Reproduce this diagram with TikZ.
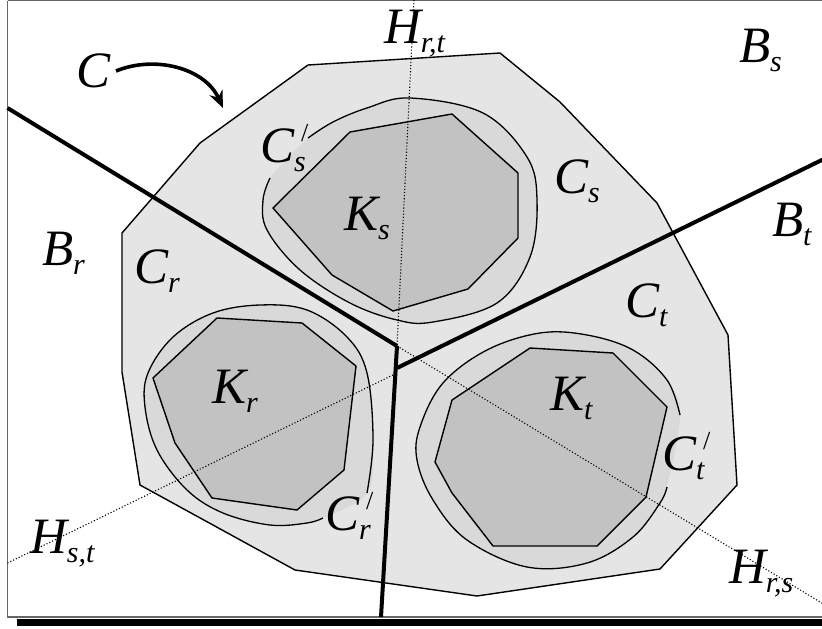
\documentclass[tikz,border=0pt]{standalone}
\usepackage{fontspec}
\setmainfont{Liberation Serif}
\usetikzlibrary{arrows.meta}
\newcommand\Lbig[1]{{\fontsize{51}{51}\selectfont\itshape #1}}
\newcommand\Lsub[1]{\raisebox{-9pt}{\fontsize{30}{30}\selectfont\itshape #1}}
\newcommand\Lpr[1]{\rlap{\raisebox{-9pt}{\fontsize{30}{30}\selectfont\itshape #1}}\kern7pt\raisebox{21pt}{\fontsize{26}{26}\selectfont /}}
\tikzset{
  lab/.style={anchor=base west, inner sep=0pt, outer sep=0pt},
  outline/.style={line width=1.4pt, line join=miter},
  bisector/.style={line width=4pt},
  hline/.style={line width=1.1pt, dotted},
  outerfill/.style={fill=black!10},
  ringfill/.style={fill=black!15},
  kfill/.style={fill=black!24},
}
\begin{document}
\begin{tikzpicture}[x=1pt,y=-1pt]
\useasboundingbox (0,0) rectangle (822,629);
% frame and shadow
\fill[black] (17,619) rectangle (830,626);
\fill[white] (7.5,0.8) rectangle (830,617);
\draw[black!60, line width=1.3pt] (7.5,0.8) -- (7.5,617) -- (830,617);
\draw[black!60, line width=1.3pt] (7.5,0.8) -- (830,0.8);
% outer region C
\draw[outline, outerfill] (308,65) -- (500,53) -- (560,102) -- (657,203) -- (728,335)
  -- (737,485) -- (660,569) -- (477,596) -- (295,570) -- (140,485) -- (122,372)
  -- (122,233) -- (200,143) -- cycle;
% C'_s
\fill[ringfill] plot[smooth cycle, tension=0.6] coordinates {(308,138) (333,122) (367,108) (410,98) (483,113) (527,157) (537,200) (530,257) (497,303) (433,322) (397,320) (350,303) (300,270) (267,230) (263,200) (270,178)};
\draw[line width=1.3pt] plot[smooth, tension=0.6] coordinates {(308,138) (333,122) (367,108) (410,98) (483,113) (527,157) (537,200) (530,257) (497,303) (433,322) (397,320) (350,303) (300,270) (267,230) (263,200) (270,178)};
% C'_r
\fill[ringfill] plot[smooth cycle, tension=0.6] coordinates {(367,493) (373,440) (367,373) (347,337) (307,310) (260,305) (213,313) (173,337) (148,373) (145,407) (157,450) (187,490) (223,513) (270,525) (307,523) (323,518)};
\draw[line width=1.3pt] plot[smooth, tension=0.6] coordinates {(367,493) (373,440) (367,373) (347,337) (307,310) (260,305) (213,313) (173,337) (148,373) (145,407) (157,450) (187,490) (223,513) (270,525) (307,523) (323,518)};
% C'_t
\fill[ringfill] plot[smooth cycle, tension=0.6] coordinates {(680,415) (667,380) (633,350) (587,335) (540,333) (487,350) (443,383) (420,427) (417,460) (433,500) (467,540) (527,567) (587,563) (633,537) (660,503) (667,487)};
\draw[line width=1.3pt] plot[smooth, tension=0.6] coordinates {(680,415) (667,380) (633,350) (587,335) (540,333) (487,350) (443,383) (420,427) (417,460) (433,500) (467,540) (527,567) (587,563) (633,537) (660,503) (667,487)};
% K polygons
\draw[outline, kfill] (350,132) -- (452,114) -- (518,173) -- (518,238) -- (468,289) -- (393,311) -- (332,275) -- (273,208) -- cycle;
\draw[outline, kfill] (217,318) -- (302,323) -- (356,366) -- (344,470) -- (297,510) -- (212,498) -- (175,443) -- (153,378) -- cycle;
\draw[outline, kfill] (530,348) -- (613,353) -- (667,407) -- (646,497) -- (597,546) -- (493,546) -- (452,493) -- (435,462) -- (452,400) -- cycle;
% junction points
\coordinate (J) at (397,346);
\coordinate (J2) at (397,368);
\coordinate (Jd) at (397,373);
% dotted H lines
\draw[hline] (414,0) -- (J);
\draw[hline] (7.5,563) -- (Jd);
\draw[hline] (J) -- (840,614);
% thick bisectors
\draw[bisector] (7.5,108) -- (J);
\draw[bisector] (J) -- (381,617);
\draw[bisector] (J2) -- (830,156);
% labels
\node[lab] (lC) at (76,87) {\Lbig{C}};
\node[lab] (lHrt) at (384,43) {\Lbig{H}\Lsub{r,t}};
\node[lab] (lBs) at (739,62) {\Lbig{B}\Lsub{s}};
\node[lab] (lCs) at (554,193) {\Lbig{C}\Lsub{s}};
\node[lab] (lCsp) at (260,162) {\Lbig{C}\Lpr{s}};
\node[lab] (lKs) at (344,230) {\Lbig{K}\Lsub{s}};
\node[lab] (lBr) at (42,265) {\Lbig{B}\Lsub{r}};
\node[lab] (lCr) at (134,283) {\Lbig{C}\Lsub{r}};
\node[lab] (lKr) at (212,403) {\Lbig{K}\Lsub{r}};
\node[lab] (lCrp) at (325,530) {\Lbig{C}\Lpr{r}};
\node[lab] (lBt) at (772,236) {\Lbig{B}\Lsub{t}};
\node[lab] (lCt) at (625,317) {\Lbig{C}\Lsub{t}};
\node[lab] (lKt) at (550,410) {\Lbig{K}\Lsub{t}};
\node[lab] (lCtp) at (662,470) {\Lbig{C}\Lpr{t}};
\node[lab] (lHst) at (30,553) {\Lbig{H}\Lsub{s,t}};
\node[lab] (lHrs) at (729,583) {\Lbig{H}\Lsub{r,s}};
% arrow from C
\coordinate (astart) at (116,71);
\coordinate (atip) at (223,108);
\draw[line width=3.6pt, -{Stealth[length=17pt,width=14pt]}] (astart) .. controls (155,55) and (205,68) .. (atip);
\end{tikzpicture}
\end{document}
